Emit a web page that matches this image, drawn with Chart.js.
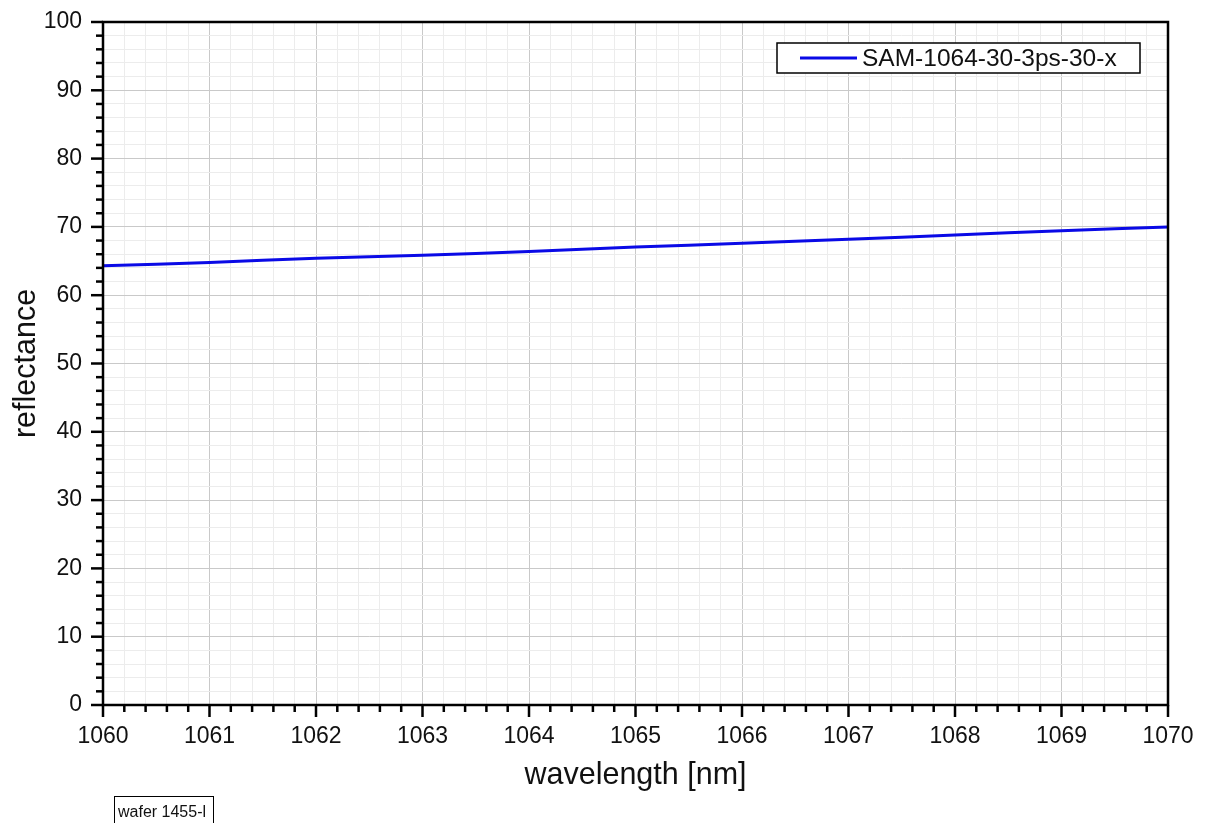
<!DOCTYPE html>
<html>
<head>
<meta charset="utf-8">
<script src="https://cdn.jsdelivr.net/npm/chart.js@4.4.0/dist/chart.umd.min.js"></script>
<style>
  html, body { margin: 0; padding: 0; background: #fff; }
  #wrap { width: 1205px; height: 823px; position: relative; }
</style>
</head>
<body>
<div id="wrap"><canvas id="chart" width="1205" height="823"></canvas></div>
<script>
// data
const wavelengths = [1060, 1061, 1062, 1063, 1064, 1065, 1066, 1067, 1068, 1069, 1070];
const reflectance = [64.3, 64.8, 65.4, 65.85, 66.4, 67.05, 67.6, 68.2, 68.8, 69.45, 70.0];
const seriesName = 'SAM-1064-30-3ps-30-x';
const noteText = 'wafer 1455-l';

const FONT = "'Liberation Sans', Arial, sans-serif";
const isMajor = (v, step) => Math.abs(v / step - Math.round(v / step)) < 1e-6;

// frame, tick marks, legend box and the note box
const decorations = {
  id: 'decorations',
  afterDraw(chart) {
    const ctx = chart.ctx;
    const a = chart.chartArea;
    const xs = chart.scales.x, ys = chart.scales.y;
    ctx.save();
    ctx.strokeStyle = '#000';
    ctx.lineWidth = 2.5;
    ctx.lineCap = 'butt';
    xs.ticks.forEach(t => {
      const px = xs.getPixelForValue(t.value);
      const len = isMajor(t.value, 1) ? 12 : 7;
      ctx.beginPath();
      ctx.moveTo(px, a.bottom);
      ctx.lineTo(px, a.bottom + len);
      ctx.stroke();
    });
    ys.ticks.forEach(t => {
      const py = ys.getPixelForValue(t.value);
      const len = isMajor(t.value, 10) ? 12 : 7;
      ctx.beginPath();
      ctx.moveTo(a.left, py);
      ctx.lineTo(a.left - len, py);
      ctx.stroke();
    });
    ctx.strokeRect(a.left, a.top, a.right - a.left, a.bottom - a.top);

    // legend
    const lx = a.right - 391, ly = a.top + 21, lw = 363, lh = 30;
    ctx.fillStyle = '#fff';
    ctx.fillRect(lx, ly, lw, lh);
    ctx.lineWidth = 1.5;
    ctx.strokeStyle = '#000';
    ctx.strokeRect(lx, ly, lw, lh);
    ctx.strokeStyle = '#0a0ae6';
    ctx.lineWidth = 3;
    ctx.beginPath();
    ctx.moveTo(lx + 23, ly + lh / 2);
    ctx.lineTo(lx + 80, ly + lh / 2);
    ctx.stroke();
    ctx.fillStyle = '#111';
    ctx.font = '24.5px ' + FONT;
    ctx.textBaseline = 'middle';
    ctx.fillText(seriesName, lx + 85, ly + lh / 2 + 1);

    // note box bottom-left
    ctx.strokeStyle = '#000';
    ctx.lineWidth = 1;
    ctx.strokeRect(114.5, 796.5, 99, 30);
    ctx.font = '16px ' + FONT;
    ctx.textBaseline = 'alphabetic';
    ctx.fillStyle = '#111';
    ctx.fillText(noteText, 118, 817);
    ctx.restore();
  }
};

new Chart(document.getElementById('chart').getContext('2d'), {
  type: 'line',
  data: {
    labels: wavelengths,
    datasets: [{
      label: seriesName,
      data: wavelengths.map((w, i) => ({ x: w, y: reflectance[i] })),
      borderColor: '#0a0ae6',
      borderWidth: 3,
      pointRadius: 0,
      tension: 0.3,
      fill: false
    }]
  },
  options: {
    responsive: false,
    animation: false,
    layout: { padding: { left: 0, top: 22, right: 37, bottom: 0 } },
    plugins: {
      legend: { display: false },
      tooltip: { enabled: false }
    },
    scales: {
      x: {
        type: 'linear',
        min: 1060,
        max: 1070,
        afterFit: s => { s.height = 118; s.paddingLeft = 0; s.paddingRight = 0; },
        ticks: {
          stepSize: 0.2,
          autoSkip: false,
          maxRotation: 0,
          padding: 18,
          color: '#111',
          font: { size: 23, family: FONT },
          callback: v => isMajor(v, 1) ? Math.round(v) : ''
        },
        grid: {
          drawTicks: false,
          lineWidth: 1,
          color: c => isMajor(c.tick.value, 1) ? '#c9c9c9' : '#ececec'
        },
        border: { display: false },
        title: {
          display: true,
          text: 'wavelength [nm]',
          color: '#111',
          font: { size: 30.5, family: FONT },
          padding: { top: 0, bottom: 29 }
        }
      },
      y: {
        min: 0,
        max: 100,
        afterFit: s => { s.width = 103; s.paddingTop = 0; s.paddingBottom = 0; },
        ticks: {
          stepSize: 2,
          autoSkip: false,
          padding: 21,
          color: '#111',
          font: { size: 23, family: FONT },
          callback: v => isMajor(v, 10) ? Math.round(v) : ''
        },
        grid: {
          drawTicks: false,
          lineWidth: 1,
          color: c => isMajor(c.tick.value, 10) ? '#c9c9c9' : '#ececec'
        },
        border: { display: false },
        title: {
          display: true,
          text: 'reflectance',
          color: '#111',
          font: { size: 30.5, family: FONT },
          padding: { top: 8, bottom: 0 }
        }
      }
    }
  },
  plugins: [decorations]
});
</script>
</body>
</html>
